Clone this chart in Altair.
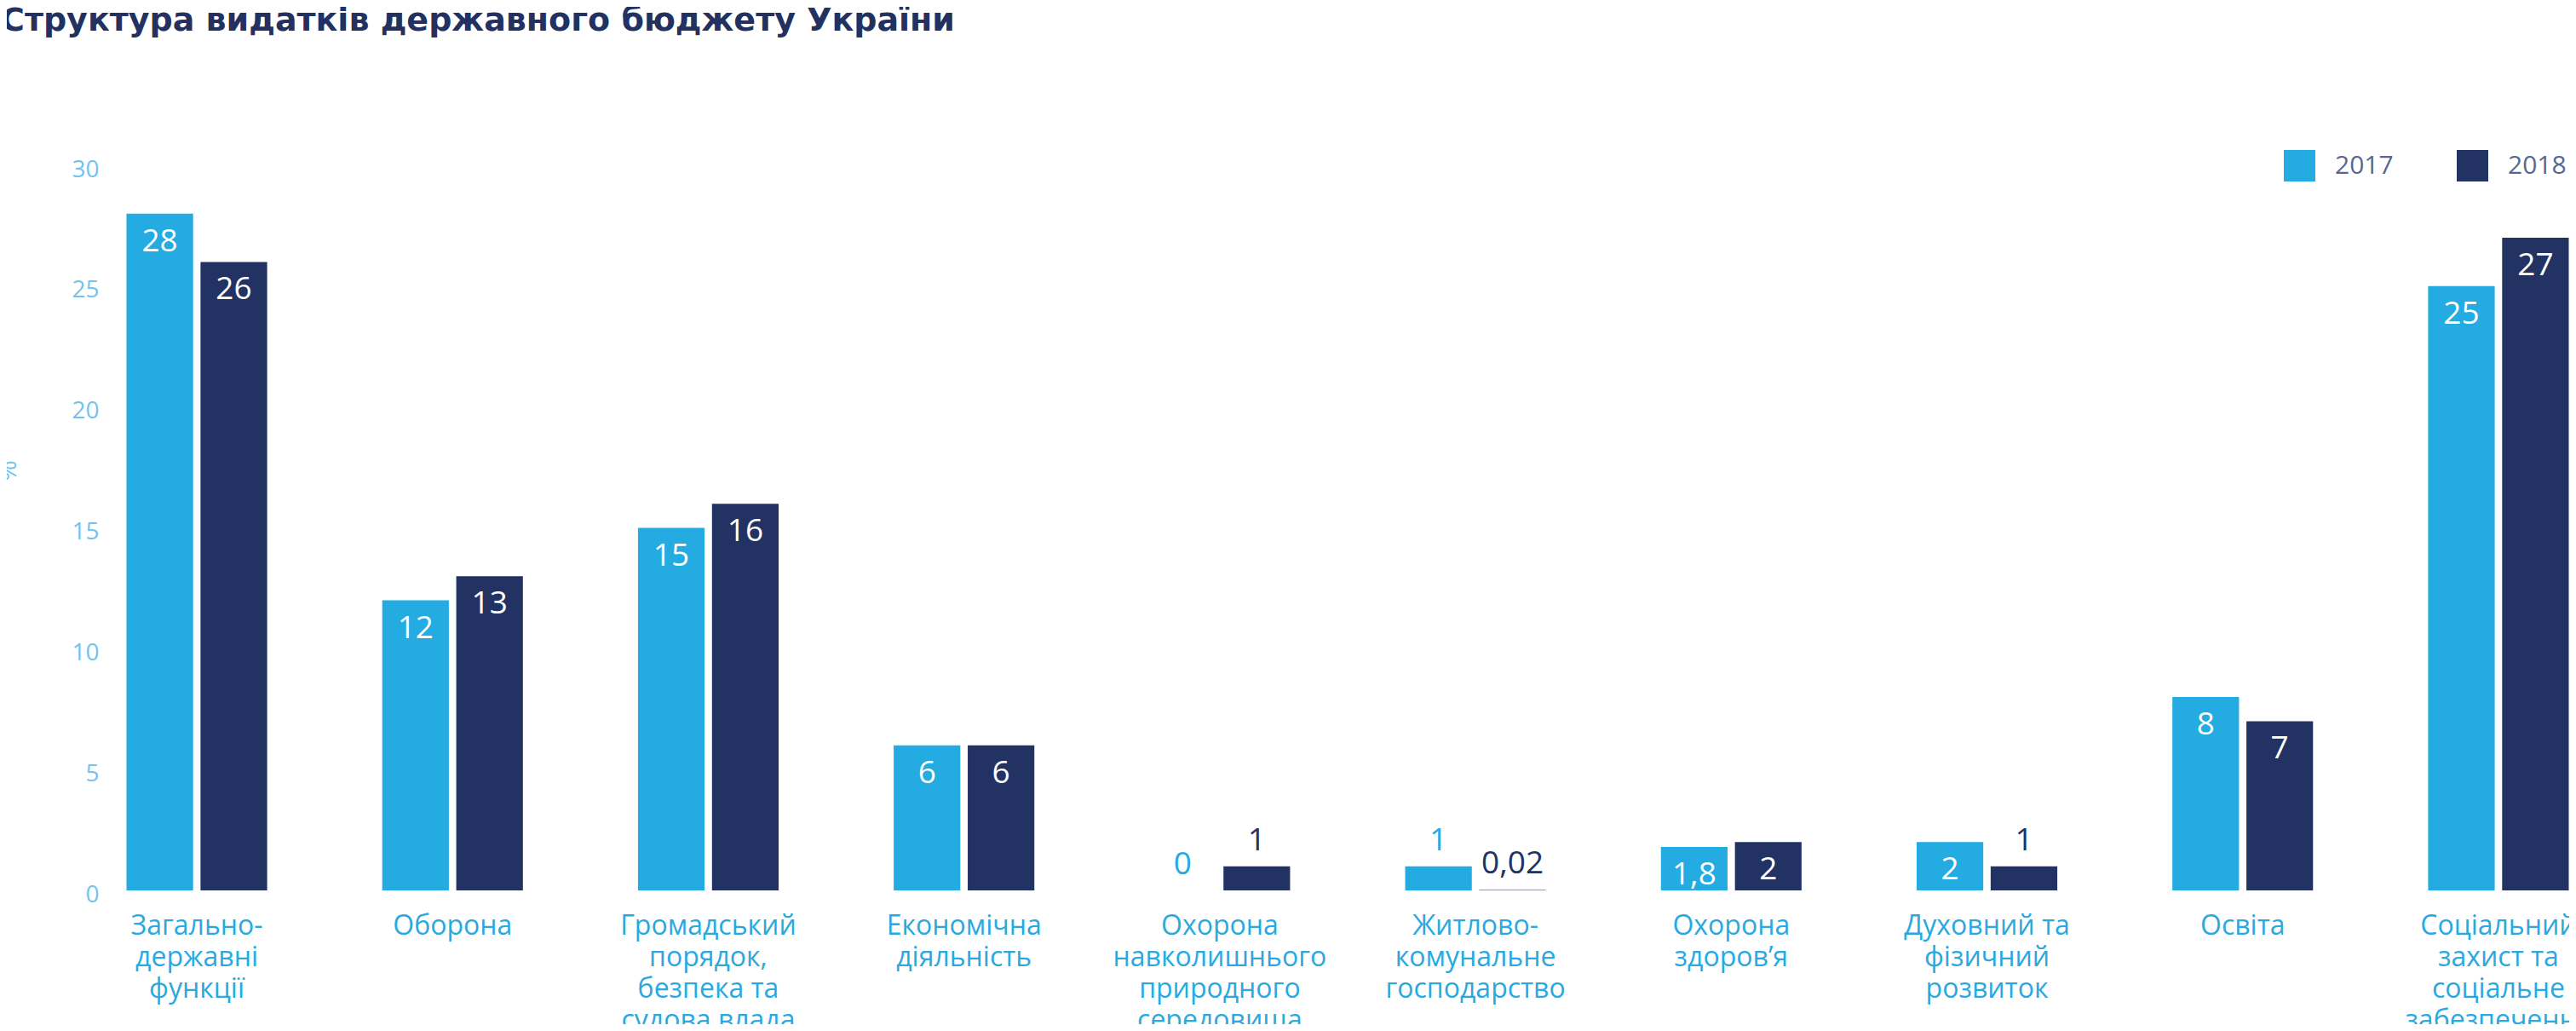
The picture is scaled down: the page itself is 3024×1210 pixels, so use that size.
import altair as alt
import pandas as pd

categories = [
    "Загально-\nдержавні\nфункції",
    "Оборона",
    "Громадський\nпорядок,\nбезпека та\nсудова влада",
    "Економічна\nдіяльність",
    "Охорона\nнавколишнього\nприродного\nсередовища",
    "Житлово-\nкомунальне\nгосподарство",
    "Охорона\nздоров’я",
    "Духовний та\nфізичний\nрозвиток",
    "Освіта",
    "Соціальний\nзахист та\nсоціальне\nзабезпечення",
]
years = ["2017", "2018"]
values_2017 = [28, 12, 15, 6, 0, 1, 1.8, 2, 8, 25]
values_2018 = [26, 13, 16, 6, 1, 0.02, 2, 1, 7, 27]
labels_2017 = ["28", "12", "15", "6", "0", "1", "1,8", "2", "8", "25"]
labels_2018 = ["26", "13", "16", "6", "1", "0,02", "2", "1", "7", "27"]
y_ticks = [0, 5, 10, 15, 20, 25, 30]

rows = []
for i, c in enumerate(categories):
    rows.append({"category": c, "year": years[0], "value": values_2017[i], "label": labels_2017[i]})
    rows.append({"category": c, "year": years[1], "value": values_2018[i], "label": labels_2018[i]})
df = pd.DataFrame(rows)

FONT = "Open Sans"
TITLE_FONT = "DejaVu Sans"
LIGHT = "#23ABE2"
NAVY = "#223263"
AXIS_BLUE = "#74C3EC"
CAT_BLUE = "#29A9E0"

color_scale = alt.Scale(domain=years, range=[LIGHT, NAVY])

x = alt.X(
    "category:N",
    sort=categories,
    scale=alt.Scale(paddingInner=0.45, paddingOuter=0.0616, range=[0, 2904]),
    axis=alt.Axis(
        title=None,
        labelAngle=0,
        labelExpr="split(datum.label, '\\n')",
        labelFont=FONT,
        labelFontSize=32,
        labelColor=CAT_BLUE,
        labelLineHeight=37,
        labelPadding=26,
        labelBaseline="top",
        domain=False,
        ticks=False,
        labelOverlap=False,
        labelLimit=0,
    ),
)
xo = alt.XOffset("year:N", sort=years, scale=alt.Scale(paddingInner=0.1))
y = alt.Y(
    "value:Q",
    scale=alt.Scale(domain=[0, 30], nice=False),
    axis=alt.Axis(
        values=y_ticks,
        title="%",
        grid=False,
        domain=False,
        ticks=False,
        labelFont=FONT,
        labelFontSize=28,
        labelColor=AXIS_BLUE,
        labelPadding=14,
        labelOffset=5,
        titleFont=FONT,
        titleFontSize=30,
        titleFontWeight="normal",
        titleColor=AXIS_BLUE,
        titleX=-106,
        titleY=358,
    ),
)

base = alt.Chart(df)

bars = base.mark_bar().encode(
    x=x,
    xOffset=xo,
    y=y,
    color=alt.Color(
        "year:N",
        scale=color_scale,
        legend=alt.Legend(
            title=None,
            orient="none",
            legendX=2551,
            legendY=-18,
            direction="horizontal",
            symbolType="square",
            symbolSize=1369,
            symbolStrokeWidth=0,
            symbolOpacity=1,
            labelFont=FONT,
            labelFontSize=30,
            labelColor="#56688F",
            labelOffset=23,
            columnPadding=74,
        ),
    ),
)

inside = base.transform_filter("datum.value >= 1.5").mark_text(
    color="white", baseline="middle", dy=33, fontSize=37, font=FONT
).encode(x=x, xOffset=xo, y=y, text="label:N")

outside = base.transform_filter("datum.value < 1.5").mark_text(
    baseline="middle", dy=-30, fontSize=37, font=FONT
).encode(
    x=x,
    xOffset=xo,
    y=y,
    text="label:N",
    color=alt.Color("year:N", scale=color_scale, legend=None),
)

chart = (
    alt.layer(bars, inside, outside)
    .properties(
        width=2886,
        height=851,
        autosize=alt.AutoSizeParams(type="none"),
        padding={"left": 122, "top": 186, "right": 0, "bottom": 157},
        title=alt.TitleParams(
            text="Структура видатків державного бюджету України",
            anchor="start",
            frame="group",
            font=TITLE_FONT,
            fontSize=38,
            fontWeight="bold",
            color="#22315F",
            dx=-129,
            offset=132,
        ),
    )
    .configure_view(stroke=None)
)

chart.save("out.html", embed_options={"renderer": "svg", "actions": False})
